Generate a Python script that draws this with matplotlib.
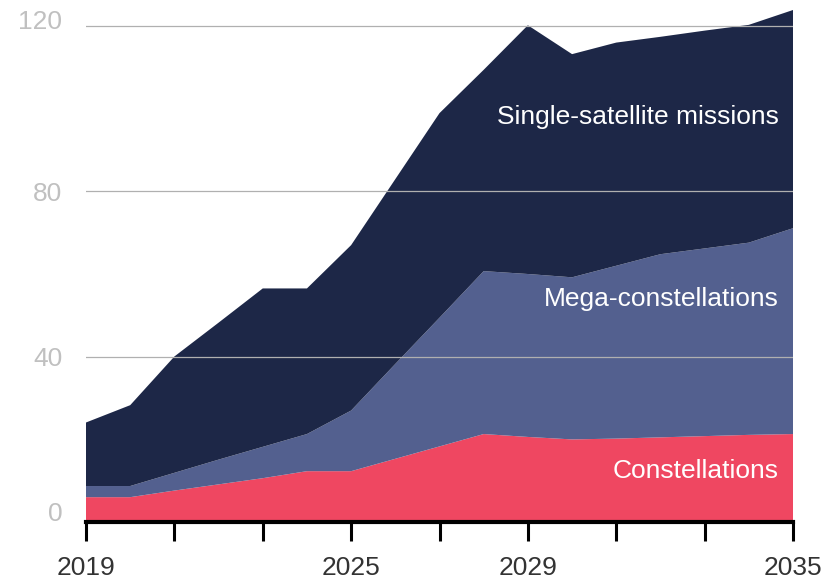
import matplotlib
matplotlib.use("Agg")
import matplotlib.pyplot as plt
import matplotlib.transforms as mtransforms

plt.rcParams['font.family'] = ['Liberation Sans', 'DejaVu Sans']

years = list(range(2019, 2036))
constellations = [5.9, 5.9, 7.5, 9.0, 10.5, 12.2, 12.2, 15.2, 18.2, 21.2,
                  20.5, 19.9, 20.1, 20.4, 20.7, 21.0, 21.2]
mega_constellations = [2.7, 2.7, 4.3, 6.0, 7.6, 9.0, 14.7, 23.0, 31.2, 39.5,
                       39.5, 39.3, 41.9, 44.4, 45.5, 46.6, 49.9]
single_missions = [15.4, 19.6, 28.2, 33.2, 38.4, 35.3, 40.1, 44.8, 49.6, 48.8,
                   60.3, 54.1, 54.1, 52.7, 52.8, 52.8, 52.9]
series_names = ["Constellations", "Mega-constellations", "Single-satellite missions"]
colors = ["#ef4761", "#53608f", "#1d2747"]

xticks = [2019, 2021, 2023, 2025, 2027, 2029, 2031, 2033, 2035]
xtick_labels = ["2019", "", "", "2025", "", "2029", "", "", "2035"]
yticks = [0, 40, 80, 120]
ytick_labels = ["0", "40", "80", "120"]

W, H = 828, 579
fig = plt.figure(figsize=(W / 100, H / 100), dpi=100)
ax_left, ax_right = 86, 793
ax_bottom_px, ymax = 521.5, 125
px_per_unit = 4.125
ax = fig.add_axes([ax_left / W, (H - ax_bottom_px) / H,
                   (ax_right - ax_left) / W, ymax * px_per_unit / H])

ax.stackplot(years, constellations, mega_constellations, single_missions,
             colors=colors, linewidth=0, zorder=1)

ax.set_xlim(2019, 2035)
ax.set_ylim(0, ymax)

for y in yticks[1:]:
    ax.axhline(y, color="#b0b0b0", lw=0.9, zorder=2)

for s in ["top", "right", "left"]:
    ax.spines[s].set_visible(False)
ax.spines["bottom"].set_linewidth(3.0)
ax.spines["bottom"].set_color("black")
ax.spines["bottom"].set_zorder(5)

ax.set_xticks(xticks)
ax.set_xticklabels(xtick_labels)
ax.tick_params(axis="x", length=14, width=2.2, color="black", pad=11,
               labelsize=19, labelcolor="#333333")
ax.set_yticks(yticks)
ax.set_yticklabels(ytick_labels)
ax.tick_params(axis="y", length=0, pad=17, labelsize=19, labelcolor="#c0c0c0")

# small vertical adjustments of y labels to match reference
offs = {"0": 10, "120": 7}
for lab in ax.get_yticklabels():
    dy = offs.get(lab.get_text(), 0)
    if dy:
        lab.set_transform(lab.get_transform() +
                          mtransforms.ScaledTranslation(0, dy / 100, fig.dpi_scale_trans))

label_y = [10.5, 52.2, 96.4]
for name, yv in zip(series_names, label_y):
    ax.text(2034.67, yv, name, color="white", fontsize=19,
            ha="right", va="baseline", zorder=6)

fig.savefig("out.png", dpi=100)
